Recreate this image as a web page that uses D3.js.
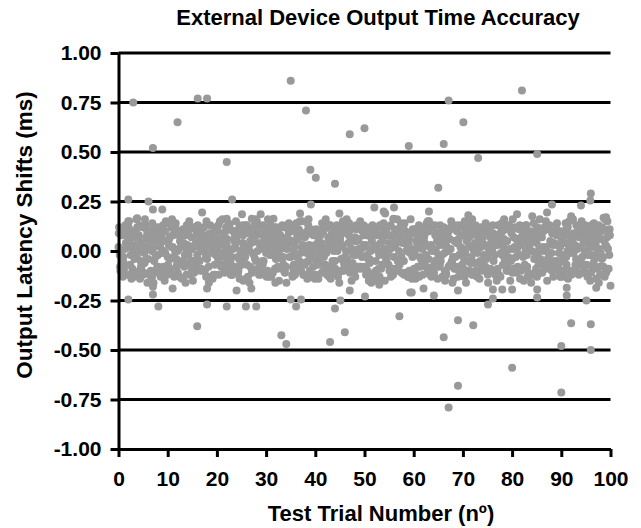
<!DOCTYPE html>
<html>
<head>
<meta charset="utf-8">
<script src="https://cdn.jsdelivr.net/npm/d3@7/dist/d3.min.js"></script>
<style>
  body { margin: 0; background: #fff; }
  text { font-family: "Liberation Sans", Arial, sans-serif; font-weight: bold; fill: #000; }
</style>
</head>
<body>
<div id="chart"></div>
<script>
// axis ticks
const xTicks = [0, 10, 20, 30, 40, 50, 60, 70, 80, 90, 100];
const yTicks = [-1, -0.75, -0.5, -0.25, 0, 0.25, 0.5, 0.75, 1];
// grid lines (the zero line is hidden under the dots in the original)
const gridValues = [-0.75, -0.5, -0.25, 0.25, 0.5, 0.75, 1];

// dense band of shifts, one value per trial, interleaved sweeps near zero
const coreA = [.02,-.03,.04,-.01,.00,.03,-.04,.01,-.02,.05,-.03,.02,.00,-.05,.03,.01,-.02,.04,-.04,.02,
  .01,-.01,.03,-.03,.05,-.02,.00,.04,-.05,.02,-.01,.03,-.04,.01,.02,-.03,.05,-.01,.00,-.04,
  .03,-.02,.01,.04,-.05,.02,-.03,.00,.05,-.01,.02,-.04,.03,-.02,.01,.04,-.03,.00,-.05,.03,
  -.01,.02,.05,-.04,.01,-.02,.03,.00,-.03,.04,.01,-.05,.02,-.01,.04,-.03,.00,.03,-.02,.05,
  -.04,.01,.03,-.02,.00,.04,-.05,.02,-.01,.03,.05,-.03,.01,-.04,.02,.00,-.02,.04,-.01,.03];
const coreB = [-.02,.01,.05,-.04,.03,-.01,.02,-.05,.04,.00,.03,-.03,.01,.04,-.02,-.05,.02,.00,.03,-.01,
  -.04,.05,-.02,.01,-.03,.04,.02,-.01,.00,-.05,.04,-.02,.03,-.04,.01,.05,-.03,.02,-.01,.00,
  -.05,.04,-.01,.02,.03,-.04,.00,.05,-.02,.01,.03,.00,-.05,.04,-.03,.01,.02,-.04,.05,-.01,
  .00,-.03,.04,.02,-.05,.03,-.01,.01,.05,-.02,-.04,.03,.00,.05,-.02,.01,-.05,.04,.02,-.03,
  .01,.04,-.03,.00,.05,-.01,.02,-.04,.03,-.05,-.02,.00,.04,.01,-.03,.05,.02,-.01,-.04,.02];
const coreC = [.00,.04,-.02,.03,-.05,.01,.05,-.03,.02,-.01,-.04,.00,.05,-.02,.01,.03,-.05,.02,-.01,.04,
  .03,-.03,.00,.05,-.04,.02,.01,-.02,.04,-.05,.01,.05,-.01,-.03,.04,.00,-.02,.03,-.05,.02,
  .04,-.01,.02,-.05,.00,.03,-.04,.01,.05,-.03,-.02,.05,.01,-.01,-.04,.02,.04,-.03,.00,.01,
  .05,-.04,-.02,.03,.00,-.05,.04,.01,-.03,.02,-.01,.02,.04,-.05,.03,.00,-.02,.05,-.04,.01,
  .02,-.02,.05,.03,-.04,.01,.00,-.03,.04,-.01,-.05,.03,-.01,.02,.04,-.02,.05,.00,-.03,.01];
const coreD = [-.05,.02,.01,-.02,.04,-.04,.00,.03,-.01,.05,.02,-.04,.03,.01,-.05,.04,.00,-.03,.05,-.02,
  .04,.01,-.05,.02,.00,-.03,.05,-.04,.01,.03,-.02,.00,.04,.05,-.03,.02,-.05,.01,.03,-.02,
  .01,-.03,.05,.00,.02,-.05,.04,-.02,.01,.03,-.04,.02,.00,.05,-.01,.03,-.05,.04,.02,-.03,
  .03,.01,-.04,.00,.05,-.02,.02,-.05,.04,.00,.05,-.03,.01,.02,-.04,.04,.03,-.01,.00,-.05,
  -.03,.05,.00,.04,-.02,-.04,.01,.05,-.05,.02,.04,-.01,.03,-.05,.00,.02,-.04,.01,.05,-.02];

// middle sweeps
const fillA = [.09,-.06,.12,-.10,.07,-.12,.06,.11,-.08,.13,-.07,.08,-.11,.10,-.06,.12,-.09,.07,-.13,.09,
  .11,-.08,.06,-.12,.10,-.07,.13,-.09,.08,-.11,.07,-.13,.10,.06,-.08,.12,-.10,.09,-.06,.11,
  -.12,.08,-.07,.13,-.09,.06,.10,-.11,.07,-.08,.12,-.06,.09,-.13,.11,-.10,.07,.08,-.12,.06,
  -.09,.13,-.07,.10,-.11,.09,.06,-.08,.12,-.13,.08,-.10,.11,-.06,.07,-.12,.13,-.09,.10,-.07,
  -.11,.06,.12,-.08,.09,-.13,.07,.11,-.10,.08,.10,-.07,-.12,.13,-.06,.09,-.11,.08,.06,-.09];
const fillB = [-.08,.10,-.12,.07,.13,-.06,.09,-.11,.12,-.09,.06,-.13,.08,-.07,.11,-.10,.12,.07,-.08,-.12,
  .13,.09,-.06,.10,-.11,.08,-.13,.06,.12,-.07,-.10,.11,-.09,.13,.07,-.12,.08,-.06,.10,-.13,
  .09,-.11,.12,-.08,.06,-.10,-.07,.11,.13,-.09,-.12,.07,-.10,.08,-.06,.13,-.09,.12,.10,-.11,
  .11,-.08,.09,-.12,.13,-.07,-.10,.06,-.09,.12,-.13,.07,-.06,.11,-.10,.09,.08,-.12,.06,.13,
  .07,-.09,.10,-.11,-.12,.08,-.06,.13,.09,-.08,-.10,.12,.06,-.07,.11,-.13,.10,-.09,.12,.07];
const fillC = [.11,-.12,.07,.09,-.08,.13,-.10,.06,-.13,.10,-.09,.12,-.06,.08,-.12,.11,.07,-.10,.09,-.07,
  .06,-.11,.13,-.08,.12,-.06,.09,.10,-.12,.07,-.13,.08,.11,-.07,.10,-.09,.06,-.12,.13,-.08,
  .07,.12,-.10,.06,-.11,.09,.13,-.06,-.08,.10,.08,-.13,.11,-.07,.12,-.09,.10,-.11,.06,.09,
  -.12,.10,-.08,.13,-.06,.07,-.11,.12,-.09,.08,.11,-.06,.13,-.10,-.08,.07,-.12,.09,-.07,.12,
  -.09,.13,-.07,.06,.10,-.11,.12,-.08,.11,-.06,.08,-.10,.09,-.12,.07,.11,-.06,.13,-.08,.10];
const fillD = [-.11,.08,-.09,.12,-.07,.10,-.13,.09,.06,-.10,.12,-.08,.10,-.12,.07,-.06,.11,-.13,.08,.12,
  -.07,.10,-.12,.09,-.06,.13,-.08,.11,-.10,.06,.12,-.09,.07,-.11,.13,-.08,.10,-.07,.09,-.12,
  -.06,.11,-.13,.07,.12,-.10,.08,-.09,.06,.13,-.11,.09,.12,-.07,.08,-.12,.06,.10,-.13,.11,
  -.08,.07,-.10,.12,.09,-.13,.11,-.06,.10,-.07,.13,-.12,.08,.09,-.09,.06,-.11,.12,-.08,.10,
  .06,-.10,.13,-.12,.07,.11,-.09,-.07,.12,-.13,.09,.06,-.11,.10,-.10,.07,.12,-.08,-.13,.11];

// wider sweeps forming the fringe of the band
const edgeA = [.12,-.09,.15,-.13,.08,-.11,.10,-.16,.07,-.08,.14,-.12,-.07,.11,.09,-.15,.13,-.10,.06,-.14,
  .10,.16,-.09,-.12,.08,.13,-.07,-.11,.15,.09,-.13,.07,.12,-.08,-.16,.10,.14,-.10,.08,-.12,
  .11,-.07,.16,-.14,.09,.12,-.09,.07,-.13,.15,-.08,.10,-.12,.13,-.15,.08,.11,-.07,.14,-.10,
  .09,-.13,.07,.15,-.11,-.08,.12,.10,-.14,.06,-.09,.14,-.12,.08,.11,-.16,.09,.13,-.07,-.10,
  .16,-.08,.10,-.13,.07,.12,-.11,-.15,.09,.14,-.12,.11,.08,-.09,.15,-.07,.13,-.14,.10,-.11];
const edgeB = [-.10,.13,-.07,.09,-.14,.16,-.12,.08,.11,-.15,.07,.10,-.13,-.08,.15,-.11,.09,.12,-.16,.08,
  -.12,-.07,.14,.10,-.10,-.15,.11,.08,-.09,.13,.16,-.11,-.08,.12,.07,-.13,-.09,.15,-.14,.10,
  -.07,.14,-.12,.09,.13,-.10,.16,-.15,.11,-.08,.12,-.16,.08,-.09,.10,-.13,.07,.14,-.11,.16,
  -.14,.09,.12,-.10,.08,.13,-.15,-.07,.11,-.12,.15,-.10,.09,-.14,-.08,.12,-.11,.07,.16,.13,
  -.09,.11,-.15,.08,.14,-.07,.10,.12,-.13,-.10,.09,-.14,.16,.12,-.11,.10,-.08,.07,-.12,.15];
const edgeC = [.08,.11,-.14,.16,-.09,.07,-.13,.12,-.10,.15,-.11,.14,.09,-.16,-.07,.12,-.10,.08,.13,-.12,
  .15,-.09,.11,.07,-.14,.10,-.16,.13,-.08,-.11,.09,.12,-.15,-.10,.14,-.07,.11,-.12,.16,.08,
  -.14,.10,.07,-.11,-.13,.15,-.08,.12,-.09,.11,-.10,.13,-.15,.07,.12,-.09,.16,-.11,.08,-.14,
  .11,-.07,.14,-.13,.09,.10,-.12,.15,-.08,.13,-.16,.08,-.10,.12,.14,-.09,.07,-.13,.11,-.15,
  .12,-.14,.08,.10,-.11,.16,-.09,.13,-.07,.09,-.13,.15,-.10,.07,-.08,.12,.14,-.16,.11,-.09];
const edgeD = [-.13,.07,.10,-.11,.12,-.16,.14,-.08,.09,-.12,.16,-.07,-.14,.13,-.10,.08,-.09,.15,-.13,.11,
  -.08,.12,-.10,.15,-.07,-.14,.09,.16,-.12,.10,.13,-.16,.08,-.09,.11,-.12,.15,.07,-.10,-.14,
  .09,-.08,.13,.10,-.16,-.07,.14,-.11,.12,.08,-.15,.11,-.09,.14,-.07,.16,-.10,.12,-.13,.09,
  .07,-.12,.15,-.08,-.14,.11,.09,-.16,.13,-.11,.10,.16,-.13,-.07,.12,.08,-.15,.14,-.10,.09,
  -.11,.07,.13,-.16,-.09,.10,.15,-.08,.12,-.13,.14,-.10,-.07,.11,.13,-.15,.09,-.12,.16,.08];

// trial phase of each sweep (trial = index + phase)
const sweepPhase = [0, 0.25, 0.5, 0.75, 0.0625, 0.3125, 0.5625, 0.8125, 0.125, 0.375, 0.625, 0.875];

// isolated shifts read one by one: [trial, shift]
const strayPoints = [
  [3.0,.75],[16.1,.77],[18.0,.77],[12.0,.65],[7.0,.52],[35.0,.86],[38.1,.71],[47.0,.59],[50.0,.62],
  [22.0,.45],[39.0,.41],[40.1,.37],[44.0,.34],[2.0,.26],[6.1,.25],[23.1,.26],[7.0,.21],[8.9,.21],
  [39.1,.235],[17.0,.195],[25.1,.185],[28.9,.185],[36.9,.19],[44.9,.19],[52.0,.22],[2.0,.15],[3.8,.165],
  [67.1,.76],[82.0,.81],[70.1,.65],[59.0,.53],[66.1,.54],[73.1,.47],[85.1,.49],[65.0,.32],[96.0,.29],
  [95.9,.255],[88.1,.235],[94.0,.23],[53.9,.2],[56.0,.22],[63.1,.2],[71.1,.18],[81.0,.185],[84.1,.175],
  [87.1,.195],[92.0,.175],[99.1,.17],[22.0,.163],[27.1,.163],[31.5,.163],[54.2,.19],[55.9,.163],[98.6,.168],
  [2.0,-.245],[7.0,-.18],[7.0,-.22],[8.1,-.28],[11.0,-.19],[16.0,-.38],[18.0,-.19],[18.0,-.27],[22.0,-.28],
  [24.0,-.2],[25.9,-.28],[28.0,-.28],[27.0,-.19],[33.1,-.425],[34.1,-.47],[35.0,-.245],[36.1,-.28],
  [37.1,-.245],[43.0,-.46],[44.0,-.29],[45.1,-.25],[46.0,-.41],[47.0,-.2],[50.1,-.23],[53.0,-.17],
  [57.1,-.33],[59.3,-.21],[59.6,-.21],[62.0,-.19],[64.1,-.225],[66.1,-.435],[67.1,-.79],[69.0,-.35],
  [69.0,-.2],[69.0,-.68],[72.1,-.375],[75.1,-.27],[76.1,-.24],[76.1,-.195],[78.0,-.195],[80.0,-.195],
  [80.0,-.59],[85.1,-.195],[85.1,-.235],[90.0,-.48],[90.0,-.715],[91.1,-.185],[91.1,-.225],[92.0,-.365],
  [95.1,-.25],[96.0,-.37],[96.0,-.5],[97.1,-.185],[100.0,-.175]
];

const width = 641, height = 528;
const margin = {top: 53, right: 30.5, bottom: 79, left: 118.5};

const svg = d3.select("#chart").append("svg")
  .attr("width", width)
  .attr("height", height);

const x = d3.scaleLinear().domain([0, 100]).range([margin.left, width - margin.right]);
const y = d3.scaleLinear().domain([-1, 1]).range([height - margin.bottom, margin.top]);

// build the point list from the sweeps and the stray values
const sweeps = [coreA, coreB, coreC, coreD, fillA, fillB, fillC, fillD, edgeA, edgeB, edgeC, edgeD];
let points = [];
sweeps.forEach((s, k) => {
  s.forEach((v, i) => points.push({trial: i + sweepPhase[k], shift: v}));
});
strayPoints.forEach(d => points.push({trial: d[0], shift: d[1]}));

// horizontal grid lines
svg.append("g")
  .selectAll("line")
  .data(gridValues)
  .join("line")
  .attr("x1", x(0))
  .attr("x2", x(100))
  .attr("y1", d => y(d))
  .attr("y2", d => y(d))
  .attr("stroke", "#000")
  .attr("stroke-width", 3);

// dots
svg.append("g")
  .selectAll("circle")
  .data(points)
  .join("circle")
  .attr("cx", d => x(d.trial))
  .attr("cy", d => y(d.shift))
  .attr("r", 4)
  .attr("fill", "#999");

// axes
const yAxis = svg.append("g")
  .attr("transform", "translate(" + x(0) + ",0)")
  .call(d3.axisLeft(y).tickValues(yTicks).tickFormat(d => d.toFixed(2))
    .tickSize(8).tickSizeOuter(0).tickPadding(9));

const xAxis = svg.append("g")
  .attr("transform", "translate(0," + y(-1) + ")")
  .call(d3.axisBottom(x).tickValues(xTicks).tickFormat(d => String(d))
    .tickSize(8).tickSizeOuter(0).tickPadding(14));

[xAxis, yAxis].forEach(a => {
  a.selectAll("path, line").attr("stroke", "#000").attr("stroke-width", 3);
  a.selectAll("text").attr("font-size", 21).attr("fill", "#000")
    .attr("font-family", "'Liberation Sans', Arial, sans-serif").attr("font-weight", "bold");
});

// titles
svg.append("text")
  .attr("x", 378)
  .attr("y", 25)
  .attr("text-anchor", "middle")
  .attr("font-size", 22)
  .text("External Device Output Time Accuracy");

svg.append("text")
  .attr("x", 381)
  .attr("y", 521)
  .attr("text-anchor", "middle")
  .attr("font-size", 22)
  .text("Test Trial Number (nº)");

svg.append("text")
  .attr("transform", "translate(32,235) rotate(-90)")
  .attr("text-anchor", "middle")
  .attr("font-size", 22.5)
  .text("Output Latency Shifts (ms)");
</script>
</body>
</html>
